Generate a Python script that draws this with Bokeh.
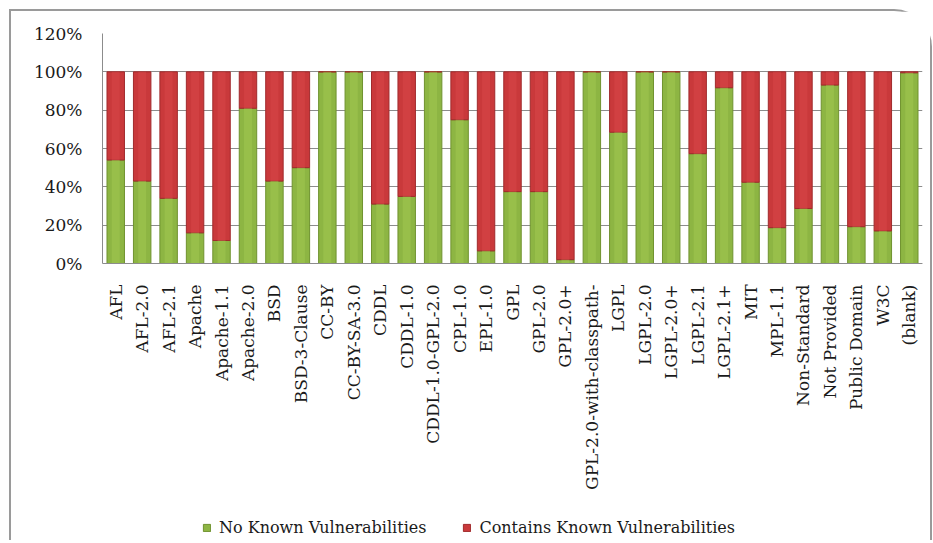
import math
from bokeh.plotting import figure
from bokeh.models import Range1d, FixedTicker, Legend, LegendItem, NumeralTickFormatter
from bokeh.embed import file_html
from bokeh.resources import INLINE

licenses = ["AFL", "AFL-2.0", "AFL-2.1", "Apache", "Apache-1.1", "Apache-2.0", "BSD",
            "BSD-3-Clause", "CC-BY", "CC-BY-SA-3.0", "CDDL", "CDDL-1.0", "CDDL-1.0-GPL-2.0",
            "CPL-1.0", "EPL-1.0", "GPL", "GPL-2.0", "GPL-2.0+", "GPL-2.0-with-classpath-",
            "LGPL", "LGPL-2.0", "LGPL-2.0+", "LGPL-2.1", "LGPL-2.1+", "MIT", "MPL-1.1",
            "Non-Standard", "Not Provided", "Public Domain", "W3C", "(blank)"]

no_known = [0.54, 0.43, 0.34, 0.16, 0.12, 0.81, 0.43, 0.50, 1.00, 1.00, 0.31, 0.35, 1.00,
            0.75, 0.066, 0.375, 0.375, 0.02, 1.00, 0.685, 1.00, 1.00, 0.573, 0.917, 0.424,
            0.187, 0.287, 0.931, 0.192, 0.17, 0.995]

contains_known = [0.46, 0.57, 0.66, 0.84, 0.88, 0.19, 0.57, 0.50, 0.00, 0.00, 0.69, 0.65, 0.00,
                  0.25, 0.934, 0.625, 0.625, 0.98, 0.00, 0.315, 0.00, 0.00, 0.427, 0.083, 0.576,
                  0.813, 0.713, 0.069, 0.808, 0.83, 0.005]

y_ticks = [0, 0.2, 0.4, 0.6, 0.8, 1.0, 1.2]

series_names = ["No Known Vulnerabilities", "Contains Known Vulnerabilities"]
GREEN = "#8db543"
RED = "#c9393b"
GREEN_HI = "#a6cc55"
RED_HI = "#dc4a4c"

FONT = "DejaVu Serif"

# layout: value area is 230 px tall (0%..120%), then 277 px below it for labels + legend
VALUE_PX = 230
BELOW_PX = 277
Y_TOP = 1.2
y_start = -Y_TOP * BELOW_PX / VALUE_PX

p = figure(x_range=licenses, y_range=Range1d(y_start, Y_TOP),
           frame_width=820, frame_height=VALUE_PX + BELOW_PX,
           output_backend="svg", toolbar_location=None,
           min_border_left=91, min_border_top=22, min_border_right=8, min_border_bottom=0)

data = {"lic": licenses, "no": no_known, "yes": contains_known}
rs = p.vbar_stack(["no", "yes"], x="lic", width=0.66, source=data,
                  fill_color=[GREEN, RED], line_color=["#6f922f", "#a02a2c"], line_width=1)
# lighter centre strip (bevel look)
p.vbar_stack(["no", "yes"], x="lic", width=0.3, source=data,
             fill_color=[GREEN_HI, RED_HI], fill_alpha=0.45, line_color=None)

p.xgrid.grid_line_color = None
p.ygrid.grid_line_color = "#8c8c8c"
p.ygrid.grid_line_width = 1
p.outline_line_color = None

p.yaxis.ticker = FixedTicker(ticks=y_ticks)
p.yaxis.bounds = (0, Y_TOP)
p.yaxis.formatter = NumeralTickFormatter(format="0%")
p.yaxis.major_tick_line_color = None
p.yaxis.minor_tick_line_color = None
p.yaxis.axis_line_color = "#8c8c8c"
p.yaxis.major_label_standoff = 14
p.yaxis.major_label_text_font = FONT
p.yaxis.major_label_text_font_size = "17px"
p.yaxis.major_label_text_color = "#1a1a1a"

p.xaxis.fixed_location = 0
p.xaxis.major_label_orientation = math.pi / 2
p.xaxis.major_tick_line_color = None
p.xaxis.minor_tick_line_color = None
p.xaxis.axis_line_color = "#8c8c8c"
p.xaxis.major_label_standoff = 15
p.xaxis.major_label_text_font = FONT
p.xaxis.major_label_text_font_size = "17px"
p.xaxis.major_label_text_color = "#1a1a1a"

p.x_range.range_padding = 0.0
p.x_range.factor_padding = 0.0

legend = Legend(items=[LegendItem(label=series_names[0], renderers=[rs[0]]),
                       LegendItem(label=series_names[1], renderers=[rs[1]])],
                orientation="horizontal", location=(100, 3),
                label_text_font=FONT, label_text_font_size="16px", label_text_color="#1a1a1a",
                glyph_width=9, glyph_height=9, spacing=36, label_standoff=8,
                border_line_color=None, background_fill_alpha=0, margin=0, padding=0)
p.add_layout(legend, "center")

p.styles = {"margin-left": "9px", "margin-top": "9px",
            "border-top": "2px solid #9a9a9a", "border-left": "2px solid #9a9a9a",
            "border-right": "2px solid #9a9a9a", "border-top-right-radius": "38px"}

open("out.html", "w").write(file_html(p, INLINE))
